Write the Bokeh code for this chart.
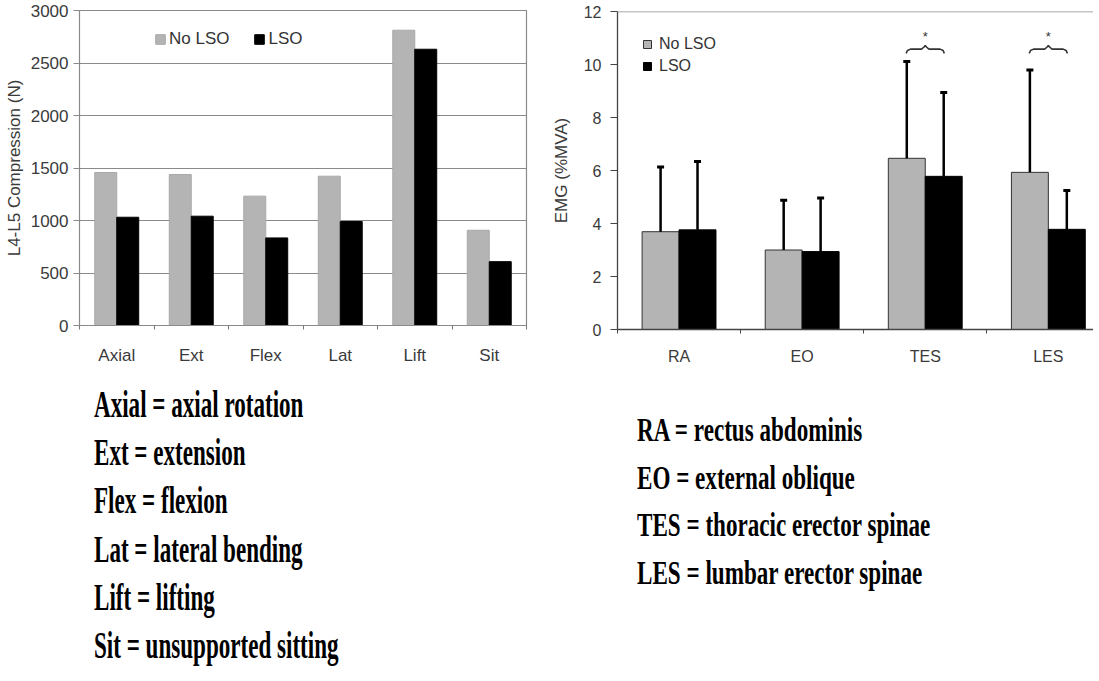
from bokeh.plotting import figure
from bokeh.models import (ColumnDataSource, FixedTicker, Whisker, TeeHead, Legend,
                          LegendItem, Span, Div, Range1d)
from bokeh.layouts import row, column
from bokeh.embed import file_html
from bokeh.resources import INLINE
from bokeh.core.properties import value

# ---------------- data ----------------
tasks = ["Axial", "Ext", "Flex", "Lat", "Lift", "Sit"]
comp_no_lso = [1457, 1438, 1232, 1422, 2812, 907]
comp_lso = [1031, 1041, 834, 990, 2631, 608]
comp_ticks = [0, 500, 1000, 1500, 2000, 2500, 3000]

muscles = ["RA", "EO", "TES", "LES"]
emg_no_lso = [3.69, 3.00, 6.46, 5.93]
emg_lso = [3.76, 2.94, 5.78, 3.78]
emg_no_lso_upper = [6.13, 4.88, 10.11, 9.79]
emg_lso_upper = [6.34, 4.96, 8.94, 5.25]
emg_ticks = [0, 2, 4, 6, 8, 10, 12]
sig_muscles = ["TES", "LES"]
brace_end, brace_flat, brace_peak = 10.42, 10.58, 10.72
star_level = 11.05

left_notes = ["Axial = axial rotation", "Ext = extension", "Flex = flexion",
              "Lat = lateral bending", "Lift = lifting", "Sit = unsupported sitting"]
right_notes = ["RA = rectus abdominis", "EO = external oblique",
               "TES = thoracic erector spinae", "LES = lumbar erector spinae"]

SANS = "Liberation Sans"
GREY = "#b4b4b4"

# ---------------- left chart ----------------
p1 = figure(width=532, height=367, x_range=Range1d(0, len(tasks)), y_range=Range1d(0, 3000),
            output_backend="svg", toolbar_location=None,
            min_border_left=79, min_border_right=6, min_border_top=10, min_border_bottom=39)
p1.outline_line_color = "#8a8a8a"
p1.outline_line_width = 1.2

xc1 = [i + 0.5 for i in range(len(tasks))]
w1 = 0.295
r1a = p1.vbar(x=[x - w1 / 2 for x in xc1], top=comp_no_lso, width=w1,
              fill_color=GREY, line_color="#a8a8a8")
r1b = p1.vbar(x=[x + w1 / 2 for x in xc1], top=comp_lso, width=w1,
              fill_color="black", line_color="black")

xa = p1.xaxis[0]
xa.ticker = FixedTicker(ticks=xc1, minor_ticks=list(range(len(tasks) + 1)))
xa.major_label_overrides = {x: t for x, t in zip(xc1, tasks)}
xa.major_tick_line_color = None
xa.minor_tick_in = 0
xa.minor_tick_out = 4
xa.minor_tick_line_color = "#777777"
xa.axis_line_color = "#8a8a8a"
xa.major_label_standoff = 14
xa.major_label_text_font = SANS
xa.major_label_text_font_size = "17px"
xa.major_label_text_color = "#3a3a3a"

ya = p1.yaxis[0]
ya.ticker = FixedTicker(ticks=comp_ticks, minor_ticks=[])
ya.major_tick_in = 0
ya.major_tick_out = 6
ya.major_tick_line_color = "#8a8a8a"
ya.axis_line_color = "#8a8a8a"
ya.major_label_standoff = 5
ya.major_label_text_font = SANS
ya.major_label_text_font_size = "17px"
ya.major_label_text_color = "#3a3a3a"
ya.axis_label = "L4-L5 Compression (N)"
ya.axis_label_text_font = SANS
ya.axis_label_text_font_style = "normal"
ya.axis_label_text_font_size = "17px"
ya.axis_label_text_color = "#3a3a3a"
ya.axis_label_standoff = 4

p1.xgrid.grid_line_color = None
p1.ygrid.ticker = FixedTicker(ticks=comp_ticks)
p1.ygrid.grid_line_color = "#8a8a8a"
p1.ygrid.grid_line_alpha = 1.0

leg1 = Legend(items=[LegendItem(label="No LSO", renderers=[r1a]),
                     LegendItem(label="LSO", renderers=[r1b])],
              orientation="horizontal", location=(75, 276),
              glyph_width=12, glyph_height=12, label_standoff=3, spacing=24,
              padding=0, margin=0, label_height=20,
              label_text_font=SANS, label_text_font_size="17px", label_text_color="#333333",
              border_line_color=None, background_fill_alpha=0)
p1.add_layout(leg1)

# ---------------- right chart ----------------
cat_px = 123.1
frame_w2 = 551 - 75
p2 = figure(width=551, height=367, x_range=Range1d(0, frame_w2 / cat_px), y_range=Range1d(0, 12),
            output_backend="svg", toolbar_location=None,
            min_border_left=75, min_border_right=0, min_border_top=11, min_border_bottom=37)
p2.outline_line_color = None
p2.xgrid.grid_line_color = None
p2.ygrid.grid_line_color = None

xc2 = [i + 0.5 for i in range(len(muscles))]
w2 = 0.3
xg = [x - w2 / 2 for x in xc2]
xb = [x + w2 / 2 for x in xc2]
r2a = p2.vbar(x=xg, top=emg_no_lso, width=w2, fill_color=GREY, line_color="#333333", line_width=1)
r2b = p2.vbar(x=xb, top=emg_lso, width=w2, fill_color="black", line_color="black")

err = ColumnDataSource(dict(base=xg + xb, lower=emg_no_lso + emg_lso,
                            upper=emg_no_lso_upper + emg_lso_upper))
wh = Whisker(source=err, base="base", lower="lower", upper="upper", dimension="height",
             line_color="black", line_width=2.5, level="overlay", lower_head=None,
             upper_head=TeeHead(size=7, line_width=3, line_color="black"))
p2.add_layout(wh)

p2.add_layout(Span(location=12, dimension="width", line_color="#8a8a8a", line_width=1.5))

bx = [-0.155, -0.145, -0.12, -0.03, -0.01, 0.0, 0.01, 0.03, 0.12, 0.145, 0.155]
for m in sig_muscles:
    c = muscles.index(m) + 0.5
    ys = [brace_end, brace_flat - 0.05, brace_flat, brace_flat, brace_peak - 0.06, brace_peak,
          brace_peak - 0.06, brace_flat, brace_flat, brace_flat - 0.05, brace_end]
    p2.line([c + d for d in bx], ys, line_color="#333333", line_width=1.6)
p2.text(x=[muscles.index(m) + 0.5 for m in sig_muscles], y=[star_level] * len(sig_muscles),
        text=["*"] * len(sig_muscles), text_align="center", text_baseline="middle",
        text_font=value(SANS), text_font_size="13px", text_color="#333333")

xa2 = p2.xaxis[0]
xa2.ticker = FixedTicker(ticks=xc2, minor_ticks=list(range(len(muscles) + 1)))
xa2.major_label_overrides = {x: t for x, t in zip(xc2, muscles)}
xa2.major_tick_line_color = None
xa2.minor_tick_in = 0
xa2.minor_tick_out = 4
xa2.minor_tick_line_color = "#444444"
xa2.axis_line_color = "#444444"
xa2.axis_line_width = 1.3
xa2.major_label_standoff = 12
xa2.major_label_text_font = SANS
xa2.major_label_text_font_size = "16px"
xa2.major_label_text_color = "#3a3a3a"

ya2 = p2.yaxis[0]
ya2.ticker = FixedTicker(ticks=emg_ticks, minor_ticks=[])
ya2.major_tick_in = 0
ya2.major_tick_out = 7
ya2.major_tick_line_color = "#444444"
ya2.axis_line_color = "#444444"
ya2.axis_line_width = 1.3
ya2.major_label_standoff = 9
ya2.major_label_text_font = SANS
ya2.major_label_text_font_size = "16px"
ya2.major_label_text_color = "#3a3a3a"
ya2.axis_label = "EMG (%MVA)"
ya2.axis_label_text_font = SANS
ya2.axis_label_text_font_style = "normal"
ya2.axis_label_text_font_size = "17px"
ya2.axis_label_text_color = "#3a3a3a"
ya2.axis_label_standoff = 10

leg2 = Legend(items=[LegendItem(label="No LSO", renderers=[r2a]),
                     LegendItem(label="LSO", renderers=[r2b])],
              orientation="vertical", location=(25, 252),
              glyph_width=10, glyph_height=10, label_standoff=7, spacing=0,
              padding=0, margin=0, label_height=22,
              label_text_font=SANS, label_text_font_size="16px", label_text_color="#333333",
              border_line_color=None, background_fill_alpha=0)
p2.add_layout(leg2)


# ---------------- notes ----------------
def notes_html(lines, size, scale, left, top0, step, w, h):
    parts = [f'<div style="position:relative;width:{w}px;height:{h}px;overflow:hidden;">']
    for i, t in enumerate(lines):
        top = top0 + i * step
        parts.append(
            f'<div style="position:absolute;left:{left}px;top:{top:.1f}px;white-space:nowrap;'
            f"font-family:'Liberation Serif';font-weight:bold;font-size:{size}px;"
            f'line-height:{size}px;color:#000;transform:scaleX({scale});'
            f'transform-origin:0 0;">{t}</div>')
    parts.append('</div>')
    return "".join(parts)


d1 = Div(text=notes_html(left_notes, 38, 0.607, 89, 13, 48.2, 532, 298),
         width=532, height=298, styles={"overflow": "hidden"})
d2 = Div(text=notes_html(right_notes, 33, 0.70, 90, 42, 47.7, 551, 298),
         width=551, height=298, styles={"overflow": "hidden"})

layout = row(column(p1, d1), column(p2, d2))
open("out.html", "w").write(file_html(layout, INLINE))
